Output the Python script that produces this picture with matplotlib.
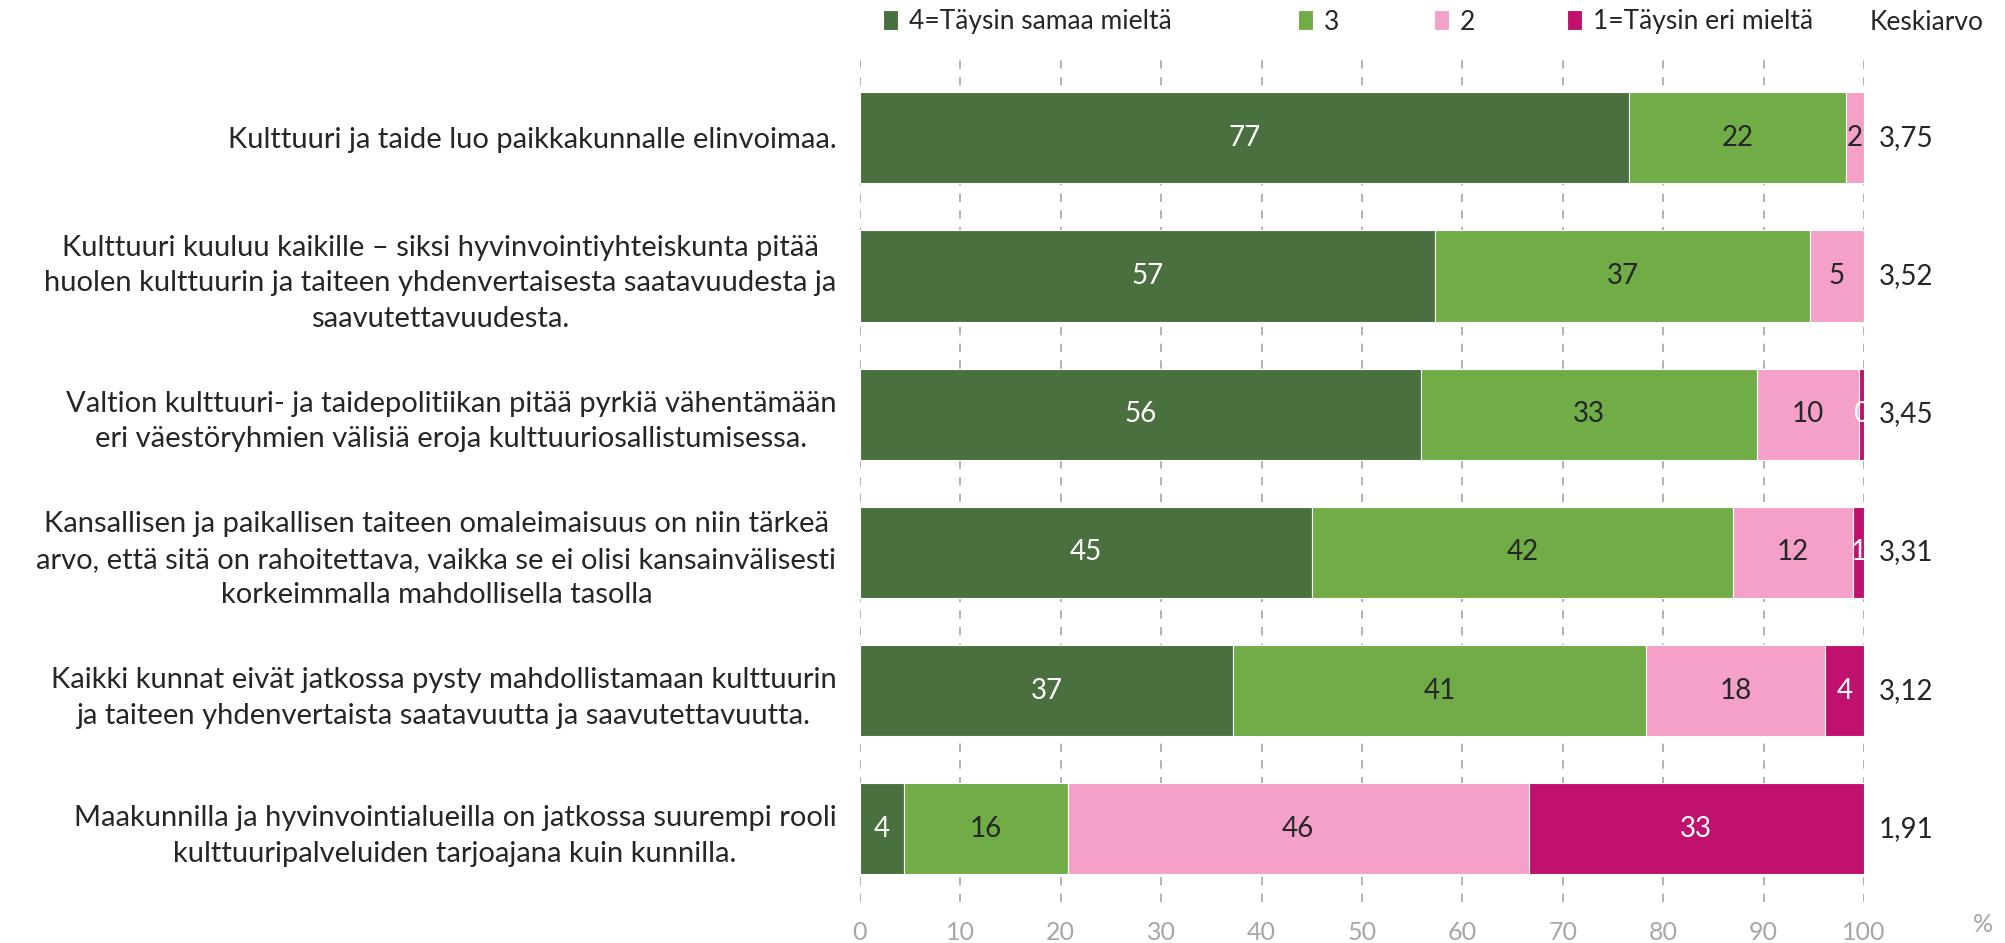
import matplotlib
matplotlib.use("Agg")
import matplotlib.pyplot as plt
import numpy as np

plt.rcParams['font.family'] = ['Lato', 'DejaVu Sans']

categories = [
    "Kulttuuri ja taide luo paikkakunnalle elinvoimaa.",
    "Kulttuuri kuuluu kaikille – siksi hyvinvointiyhteiskunta pitää\nhuolen kulttuurin ja taiteen yhdenvertaisesta saatavuudesta ja\nsaavutettavuudesta.",
    "Valtion kulttuuri- ja taidepolitiikan pitää pyrkiä vähentämään\neri väestöryhmien välisiä eroja kulttuuriosallistumisessa.",
    "Kansallisen ja paikallisen taiteen omaleimaisuus on niin tärkeä\narvo, että sitä on rahoitettava, vaikka se ei olisi kansainvälisesti\nkorkeimmalla mahdollisella tasolla",
    "Kaikki kunnat eivät jatkossa pysty mahdollistamaan kulttuurin\nja taiteen yhdenvertaista saatavuutta ja saavutettavuutta.",
    "Maakunnilla ja hyvinvointialueilla on jatkossa suurempi rooli\nkulttuuripalveluiden tarjoajana kuin kunnilla.",
]
series_names = ["4=Täysin samaa mieltä", "3", "2", "1=Täysin eri mieltä"]
s4 = [76.6, 57.3, 55.9, 45.0, 37.2, 4.4]
s3 = [21.6, 37.3, 33.4, 42.0, 41.1, 16.3]
s2 = [1.8, 5.4, 10.2, 11.9, 17.8, 45.9]
s1 = [0.0, 0.0, 0.5, 1.1, 3.9, 33.4]
keskiarvo = ["3,75", "3,52", "3,45", "3,31", "3,12", "1,91"]
xticks = [0, 10, 20, 30, 40, 50, 60, 70, 80, 90, 100]

colors = ["#4A7040", "#70AD47", "#F4A0C8", "#C0116E"]
label_colors = ["white", "#262626", "#262626", "white"]

W, H = 2006, 943
fig = plt.figure(figsize=(W / 100, H / 100), dpi=100)
ax = fig.add_axes([860 / W, 1 - 902 / H, (1864 - 860) / W, (902 - 57.6) / H])

y = np.arange(len(categories))
left = np.zeros(len(categories))
bars_all = []
for vals, c, lc, name in zip([s4, s3, s2, s1], colors, label_colors, series_names):
    vals = np.array(vals)
    bars = ax.barh(y, vals, left=left, height=0.66, color=c, label=name,
                   edgecolor="white", linewidth=0.8, zorder=3)
    bars_all.append(bars)
    for yi, (v, l) in enumerate(zip(vals, left)):
        if v > 0:
            ax.text(l + v / 2, yi, f"{v:.0f}", ha="center", va="center",
                    color=lc, fontsize=20, zorder=4, clip_on=False)
    left = left + vals

for yi, k in enumerate(keskiarvo):
    ax.text(101.5, yi, k, ha="left", va="center", fontsize=20, color="#262626")

ax.set_xlim(0, 100)
ax.set_ylim(5.53, -0.58)
ax.set_yticks(y)
ax.set_yticklabels(categories, fontsize=21, color="#262626",
                   multialignment="center", linespacing=1.45)
ax.tick_params(axis="y", length=0, pad=17)
ax.set_xticks(xticks)
ax.set_xticklabels([str(t) for t in xticks], fontsize=18, color="#A6A6A6")
ax.tick_params(axis="x", length=0, pad=14)
ax.xaxis.grid(True, linestyle=(0, (5, 5)), color="#A6A6A6", linewidth=1.2, zorder=0)
for s in ax.spines.values():
    s.set_visible(False)

fig.text(1983 / W, 1 - 925 / H, "%", fontsize=18, color="#A6A6A6", ha="center", va="center")
fig.text(1870 / W, 1 - 22 / H, "Keskiarvo", fontsize=19, color="#262626", ha="left", va="center")

legend_x = [883, 1298, 1434, 1567]
for handle, name, lx in zip(bars_all, series_names, legend_x):
    leg = fig.legend(handles=[handle], labels=[name], loc="center left",
                     bbox_to_anchor=(lx / W, 1 - 22 / H), frameon=False, fontsize=19,
                     handlelength=0.58, handleheight=0.78, handletextpad=0.4,
                     labelcolor="#262626", borderpad=0, borderaxespad=0)

fig.savefig("out.png", dpi=100)
